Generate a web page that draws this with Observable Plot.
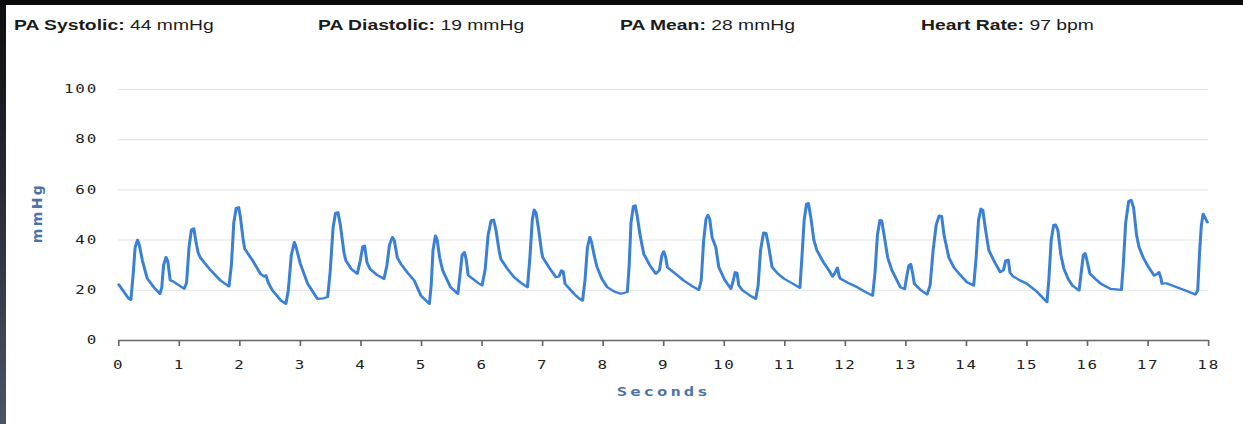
<!DOCTYPE html>
<html>
<head>
<meta charset="utf-8">
<script src="https://cdn.jsdelivr.net/npm/d3@7"></script>
<script src="https://cdn.jsdelivr.net/npm/@observablehq/plot@0.6"></script>
<style>
  html, body { margin: 0; padding: 0; background: #0a0a0b; }
  #frame { position: absolute; left: 0; top: 0; width: 1243px; height: 424px; overflow: hidden;
           background: linear-gradient(to bottom, #0c0d10 0%, #2a2f38 50%, #4b5566 100%); }
  #topband { position: absolute; left: 0; top: 0; width: 1243px; height: 5px; background: #0a0a0b; }
  #panel { position: absolute; left: 6px; top: 5px; width: 1237px; height: 419px; background: #fff; overflow: hidden; }
  #inner { position: absolute; left: 0; top: 0; width: 896.4px; height: 419px; transform: scaleX(1.38); transform-origin: 0 0; }
  #header { position: absolute; left: 0; top: 12.6px; width: 896px; height: 16px;
            font-family: "Liberation Sans", Arial, sans-serif; font-size: 14px; line-height: 14px; color: #1c1c1c; white-space: nowrap; }
  #header span.item { position: absolute; top: 0; }
  #header b { font-weight: bold; }
  #chart { position: absolute; left: 0; top: 40px; }
  #chart svg { overflow: visible; }
  #chart g[aria-label="x-axis tick label"] text,
  #chart g[aria-label="y-axis tick label"] text { letter-spacing: 1.3px; }
  #chart text.seconds-label { letter-spacing: 2.2px; }
  #chart text.mmhg-label { letter-spacing: 2.4px; }
</style>
</head>
<body>
<div id="frame">
  <div id="topband"></div>
  <div id="panel">
    <div id="inner">
      <div id="header"></div>
      <div id="chart"></div>
    </div>
  </div>
</div>
<script>
// Header readings
const readingLabels = ["PA Systolic:", "PA Diastolic:", "PA Mean:", "Heart Rate:"];
const readingValues = ["44 mmHg", "19 mmHg", "28 mmHg", "97 bpm"];

// Axis ticks
const xTicks = [0, 1, 2, 3, 4, 5, 6, 7, 8, 9, 10, 11, 12, 13, 14, 15, 16, 17, 18];
const yTicks = [0, 20, 40, 60, 80, 100];
const gridTicks = [20, 40, 60, 80, 100];

// Pressure waveform (time in seconds, pressure in mmHg)
const seconds = [
  0.00, 0.08, 0.16, 0.20,
  0.24, 0.27, 0.31, 0.34, 0.39, 0.47, 0.58, 0.68,
  0.71, 0.74, 0.78, 0.81, 0.85, 0.90, 0.98, 1.08,
  1.12, 1.16, 1.20, 1.24, 1.27, 1.31, 1.35, 1.52, 1.68, 1.82,
  1.86, 1.90, 1.94, 1.98, 2.01, 2.05, 2.08, 2.21, 2.34, 2.40, 2.43, 2.47, 2.54, 2.68, 2.76,
  2.80, 2.85, 2.90, 2.93, 3.00, 3.12, 3.28, 3.38, 3.45,
  3.49, 3.54, 3.58, 3.62, 3.66, 3.72, 3.75, 3.84, 3.94,
  3.99, 4.03, 4.06, 4.10, 4.15, 4.27, 4.38,
  4.43, 4.47, 4.52, 4.55, 4.60, 4.66, 4.77, 4.88, 4.99, 5.13,
  5.16, 5.19, 5.23, 5.26, 5.30, 5.35, 5.48, 5.60,
  5.64, 5.67, 5.71, 5.74, 5.77, 5.85, 5.93, 6.00,
  6.05, 6.10, 6.15, 6.19, 6.23, 6.28, 6.31, 6.42, 6.53, 6.64, 6.75,
  6.79, 6.83, 6.86, 6.89, 6.93, 6.98, 7.00, 7.11, 7.22, 7.27, 7.31, 7.34, 7.37, 7.45, 7.52, 7.60, 7.66,
  7.70, 7.74, 7.78, 7.81, 7.86, 7.90, 7.98, 8.07, 8.18, 8.29, 8.40,
  8.43, 8.46, 8.50, 8.53, 8.56, 8.61, 8.67, 8.77, 8.87, 8.93, 8.97, 9.00, 9.03, 9.06, 9.20, 9.33, 9.46, 9.58,
  9.62, 9.66, 9.70, 9.73, 9.76, 9.80, 9.86, 9.91, 10.01, 10.11, 10.15, 10.18, 10.21, 10.24, 10.30, 10.42, 10.52,
  10.56, 10.60, 10.65, 10.69, 10.73, 10.79, 10.89, 10.99, 11.12, 11.25,
  11.28, 11.32, 11.36, 11.39, 11.43, 11.48, 11.53, 11.63, 11.73, 11.79, 11.83, 11.87, 11.90, 11.92, 12.06, 12.20, 12.32, 12.45,
  12.49, 12.53, 12.57, 12.60, 12.64, 12.70, 12.77, 12.84, 12.91, 12.98, 13.01, 13.05, 13.08, 13.11, 13.14, 13.25, 13.35,
  13.40, 13.45, 13.50, 13.55, 13.59, 13.63, 13.71, 13.79, 13.90, 14.01, 14.12,
  14.16, 14.20, 14.24, 14.27, 14.31, 14.37, 14.47, 14.56, 14.61, 14.65, 14.69, 14.72, 14.77, 14.89, 15.00, 15.17, 15.33,
  15.36, 15.40, 15.44, 15.47, 15.51, 15.56, 15.61, 15.68, 15.75, 15.86,
  15.89, 15.93, 15.96, 15.99, 16.04, 16.13, 16.22, 16.38, 16.56,
  16.59, 16.63, 16.68, 16.72, 16.76, 16.81, 16.85, 16.92, 16.99, 17.10, 17.15, 17.18, 17.21, 17.23, 17.30, 17.42, 17.54, 17.66, 17.78,
  17.82, 17.85, 17.88, 17.91, 17.94, 17.98
];
const mmHg = [
  22.3, 19.5, 16.8, 16.2,
  27, 37, 40.1, 38, 31.9, 24.7, 21.2, 18.6,
  21, 30, 33.2, 31.5, 24, 23.5, 22.2, 20.6,
  23, 37, 44.2, 44.7, 40, 35, 32.9, 27.9, 23.9, 21.5,
  30, 47, 52.8, 53.1, 49, 41, 36.5, 31.9, 26.6, 25.5, 26, 23, 19.9, 15.9, 14.6,
  20, 34, 39.2, 37, 30.5, 22.6, 16.6, 16.8, 17.3,
  27, 45, 50.8, 51.1, 46, 35, 31.9, 28.5, 26.6,
  32, 37.5, 37.8, 31, 28.5, 26, 24.6,
  30, 38, 41.2, 40, 33, 30.5, 27, 23.9, 17.9, 14.6,
  22, 36, 41.8, 40, 33, 27.9, 21.2, 18.6,
  27, 34, 35.2, 32, 26, 24.5, 23, 21.9,
  28, 42, 47.8, 48.1, 44, 36, 32.5, 28.5, 25.2, 23, 21.2,
  33, 48, 52.1, 51, 45, 36, 33.2, 29, 25.2, 25.5, 27.9, 27.5, 22.6, 20.5, 18.6, 16.8, 15.9,
  24, 37, 41.2, 39, 33, 29.2, 24.5, 21.2, 19.5, 18.6, 19.3,
  30, 47, 53.5, 53.8, 50, 42, 34.5, 30, 26.6, 28, 34, 35.5, 33.5, 29.2, 26.5, 23.9, 21.8, 20.2,
  24, 40, 48.5, 50, 48.5, 41, 37.2, 29.2, 24, 20.6, 24, 27.2, 27, 22, 20, 18, 16.6,
  22, 36, 43, 42.8, 38, 29.2, 26.5, 24.6, 22.8, 21,
  32, 48, 54.5, 54.7, 49, 40, 35.9, 31.5, 27.9, 25.5, 27, 29, 25.5, 24.6, 22.8, 21.2, 19.5, 17.9,
  27, 42, 48, 47.8, 42, 33, 27.9, 24.5, 21.2, 20.5, 25, 30, 30.5, 27, 22.6, 20, 18.3,
  22, 36, 46, 49.8, 49.6, 42, 33, 29.2, 26, 23.2, 21.9,
  33, 48, 52.5, 52, 45, 35.9, 31, 27.2, 28, 31.9, 32.2, 27, 25.5, 23.9, 22.6, 19.3, 15.3,
  24, 40, 46, 46.2, 44, 34, 28.6, 24.5, 21.9, 19.9,
  26, 34, 34.8, 32, 26.6, 24.5, 22.6, 20.6, 20.2,
  30, 47, 55.5, 56, 53, 42, 37.2, 33, 29.9, 25.9, 26.5, 27.2, 25, 22.6, 22.8, 21.7, 20.6, 19.5, 18.3,
  20, 35, 46, 50.5, 49, 47.1
];

// Header
const header = document.getElementById("header");
const headerX = [5.8, 226.1, 444.9, 663.0];
readingLabels.forEach((lab, i) => {
  const s = document.createElement("span");
  s.className = "item";
  s.style.left = headerX[i] + "px";
  const b = document.createElement("b");
  b.textContent = lab;
  s.appendChild(b);
  s.appendChild(document.createTextNode(" " + readingValues[i]));
  header.appendChild(s);
});

const n = Math.min(seconds.length, mmHg.length);
const data = [];
for (let i = 0; i < n; i++) data.push({t: seconds[i], v: mmHg[i]});

const chart = Plot.plot({
  width: 896.4,
  height: 379,
  marginLeft: 81.2,
  marginRight: 25.4,
  marginTop: 44,
  marginBottom: 84,
  style: {fontFamily: "'DejaVu Sans Mono', monospace", fontSize: "11.5px", color: "#222", background: "transparent"},
  x: {domain: [0, 18]},
  y: {domain: [0, 100]},
  marks: [
    Plot.ruleY(gridTicks, {stroke: "#e2e2e2", strokeWidth: 1}),
    Plot.axisY({ticks: yTicks, tickSize: 0, tickPadding: 15, label: null, fill: "#222"}),
    Plot.axisX({ticks: xTicks, tickSize: 6, tickPadding: 14, label: null, stroke: "#666", strokeWidth: 1.2, fill: "#222", tickFormat: d => String(d)}),
    Plot.ruleY([0], {stroke: "#666", strokeWidth: 1.6}),
    Plot.line(data, {x: "t", y: "v", stroke: "#3a80d6", strokeWidth: 2.2, strokeLinejoin: "round", strokeLinecap: "round"}),
    Plot.text(["Seconds"], {frameAnchor: "bottom", dy: 56, fill: "#4a74a8", fontWeight: "bold", fontSize: 12.5, fontFamily: "'DejaVu Sans Mono', monospace"}),
    Plot.text(["mmHg"], {frameAnchor: "left", dx: -58.7, rotate: -90, fill: "#4a74a8", fontWeight: "bold", fontSize: 14, fontFamily: "'DejaVu Sans', sans-serif"})
  ]
});
document.getElementById("chart").appendChild(chart);

// Label styling: compensate the horizontal stretch on the rotated label, then re-center it.
const SX = 1.38;
d3.select(chart).selectAll("text").each(function() {
  const t = this.textContent;
  if (t === "Seconds") this.classList.add("seconds-label");
  if (t === "mmHg") {
    this.classList.add("mmhg-label");
    const tr = this.getAttribute("transform") || "";
    this.setAttribute("transform", (tr + " scale(1,0.72)").trim());
    const r = this.getBoundingClientRect();
    const cx = r.left + r.width / 2, cy = r.top + r.height / 2;
    const wantX = 37, wantY = 213;
    const shiftX = (wantX - cx) / SX, shiftY = wantY - cy;
    this.setAttribute("transform", `translate(${shiftX},${shiftY}) ` + this.getAttribute("transform"));
  }
});
</script>
</body>
</html>
